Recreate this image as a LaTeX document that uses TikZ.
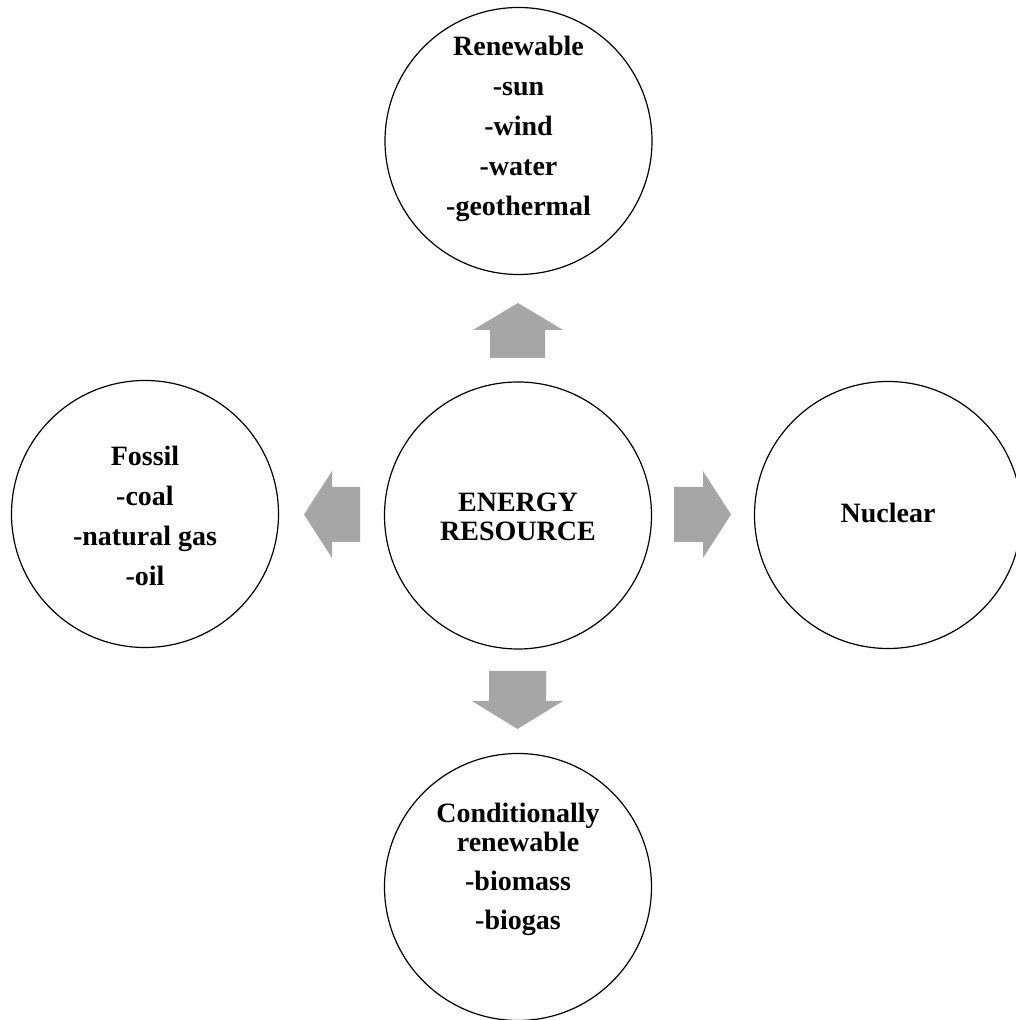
\documentclass[tikz,border=0pt]{standalone}
\usepackage{fontspec}
\setmainfont{Liberation Serif}
\begin{document}
\begin{tikzpicture}[x=1pt,y=1pt]
\definecolor{fillColor}{RGB}{255,255,255}
\definecolor{drawColor}{RGB}{0,0,0}
\definecolor{arrowColor}{RGB}{166,166,166}
\tikzset{
  ring/.style={circle,draw=drawColor,line width=1.2pt,minimum size=267pt,inner sep=0pt,outer sep=0pt},
  lbl/.style={text=drawColor,align=center,inner sep=0pt,outer sep=0pt,font=\fontsize{28}{40}\selectfont\bfseries}
}
\path[use as bounding box,fill=fillColor] (0,0) rectangle (1015,1020);

\node[ring] (centre) at (518,504.5) {};

\node[ring] (renew) at (518.5,879) {};

\node[ring] (fossil) at (145,506) {};

\node[ring] (nuclear) at (888,505) {};

\node[ring] (condit) at (518,133) {};

\node[lbl,font=\fontsize{28}{29}\selectfont\bfseries] (centreText) at ([yshift=-1]centre.center) {ENERGY\\RESOURCE};

\node[lbl] (renewText) at ([yshift=12.5]renew.center) {Renewable\\-sun\\-wind\\-water\\-geothermal};

\node[lbl] (fossilText) at ([yshift=-1.5]fossil.center) {Fossil\\-coal\\-natural gas\\-oil};

\node[lbl] (nuclearText) at ([yshift=2]nuclear.center) {Nuclear};

\node[lbl,font=\fontsize{28}{39}\selectfont\bfseries] (conditText) at ([yshift=18]condit.center) {Conditionally\\[-10pt]renewable\\-biomass\\-biogas};

\path[fill=arrowColor] (490,662) -- (490,690) -- (473,690) -- (518,717) -- (563,690) -- (545,690) -- (545,662) -- cycle;

\path[fill=arrowColor] (360,533) -- (332,533) -- (332,549) -- (304,505.5) -- (332,462) -- (332,478) -- (360,478) -- cycle;

\path[fill=arrowColor] (674,533) -- (703,533) -- (703,549) -- (731,505.5) -- (703,462) -- (703,478) -- (674,478) -- cycle;

\path[fill=arrowColor] (489,349) -- (546,349) -- (546,319) -- (563,319) -- (517.5,291) -- (472,319) -- (489,319) -- cycle;
\end{tikzpicture}
\end{document}
